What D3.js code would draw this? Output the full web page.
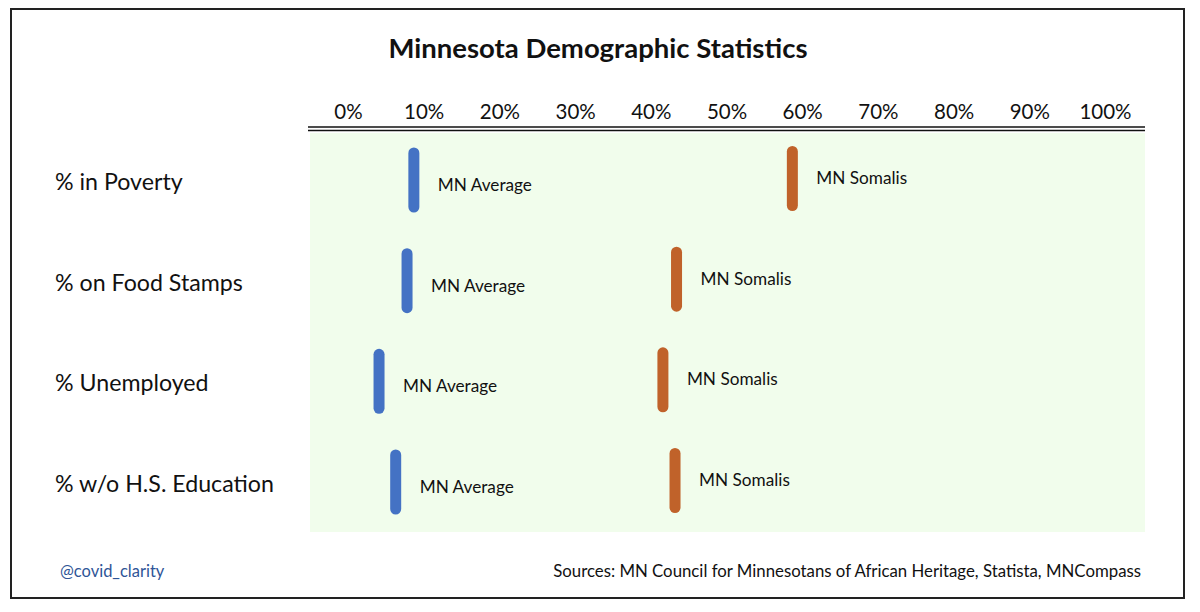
<!DOCTYPE html>
<html>
<head>
<meta charset="utf-8">
<script src="https://cdn.jsdelivr.net/npm/d3@7"></script>
<style>
  body { margin: 0; background: #fff; }
  svg text { font-family: Lato, "Open Sans", sans-serif; fill: #111; }
</style>
</head>
<body>
<svg id="drawing_region"></svg>
<script>
// data
const categories = ["% in Poverty", "% on Food Stamps", "% Unemployed", "% w/o H.S. Education"];
const mnAverage = [0.087, 0.078, 0.041, 0.063];
const mnSomalis = [0.587, 0.434, 0.416, 0.432];
const seriesNames = ["MN Average", "MN Somalis"];
const tickValues = [0, 0.1, 0.2, 0.3, 0.4, 0.5, 0.6, 0.7, 0.8, 0.9, 1.0];

const width = 1200, height = 612;

const svg = d3.select('#drawing_region')
    .attr('width', width)
    .attr('height', height);

// outer frame
svg.append('rect')
    .attr('x', 11).attr('y', 9)
    .attr('width', 1173).attr('height', 589)
    .attr('fill', '#fff')
    .attr('stroke', '#222')
    .attr('stroke-width', 2);

const xscale = d3.scaleLinear()
    .domain([0, 1])
    .range([348, 1105]);

const yscale = d3.scalePoint()
    .domain(categories)
    .range([180, 482]);

// plot background
svg.append('rect')
    .attr('x', 310).attr('y', 133)
    .attr('width', 835).attr('height', 399)
    .attr('fill', '#f1fdec');

// double rule under the tick labels
[127, 130.5].forEach(y => {
    svg.append('line')
        .attr('x1', 308).attr('x2', 1145)
        .attr('y1', y).attr('y2', y)
        .attr('stroke', '#111')
        .attr('stroke-width', 1.5);
});

// title
svg.append('text')
    .attr('x', 598)
    .attr('y', 58)
    .attr('text-anchor', 'middle')
    .style('font-size', '27.5px')
    .style('font-weight', 'bold')
    .text('Minnesota Demographic Statistics');

// top axis
const xaxis = d3.axisTop(xscale)
    .tickValues(tickValues)
    .tickFormat(d3.format('.0%'))
    .tickSize(0)
    .tickPadding(0);

const xaxis_group = svg.append('g')
    .attr('transform', 'translate(0, 119)')
    .call(xaxis);
xaxis_group.select('.domain').remove();
xaxis_group.selectAll('text')
    .attr('dy', 0)
    .style('font-family', 'Lato, "Open Sans", sans-serif')
    .style('font-size', '20.5px')
    .attr('fill', '#111');

// category labels
svg.selectAll('.cat')
    .data(categories)
    .enter()
    .append('text')
    .attr('class', 'cat')
    .attr('x', 55)
    .attr('y', d => yscale(d) + 10)
    .style('font-size', '23.2px')
    .text(d => d);

const series = [
    { name: seriesNames[0], values: mnAverage, color: '#4472c4', dy: 0, ldy: 11 },
    { name: seriesNames[1], values: mnSomalis, color: '#c0622a', dy: -1.5, ldy: 4 }
];

series.forEach(s => {
    const rows = categories.map((c, i) => ({ cat: c, v: s.values[i] }));

    svg.selectAll(null)
        .data(rows)
        .enter()
        .append('line')
        .attr('x1', d => xscale(d.v))
        .attr('x2', d => xscale(d.v))
        .attr('y1', d => yscale(d.cat) + s.dy - 27)
        .attr('y2', d => yscale(d.cat) + s.dy + 27)
        .attr('stroke', s.color)
        .attr('stroke-width', 11)
        .attr('stroke-linecap', 'round');

    svg.selectAll(null)
        .data(rows)
        .enter()
        .append('text')
        .attr('x', d => xscale(d.v) + 24)
        .attr('y', d => yscale(d.cat) + s.ldy)
        .style('font-size', '17.2px')
        .text(s.name);
});

// footer
svg.append('text')
    .attr('x', 60)
    .attr('y', 577)
    .style('font-size', '16.5px')
    .style('fill', '#2f5597')
    .text('@covid_clarity');

svg.append('text')
    .attr('x', 1141)
    .attr('y', 577)
    .attr('text-anchor', 'end')
    .style('font-size', '16.8px')
    .text('Sources: MN Council for Minnesotans of African Heritage, Statista, MNCompass');
</script>
</body>
</html>
